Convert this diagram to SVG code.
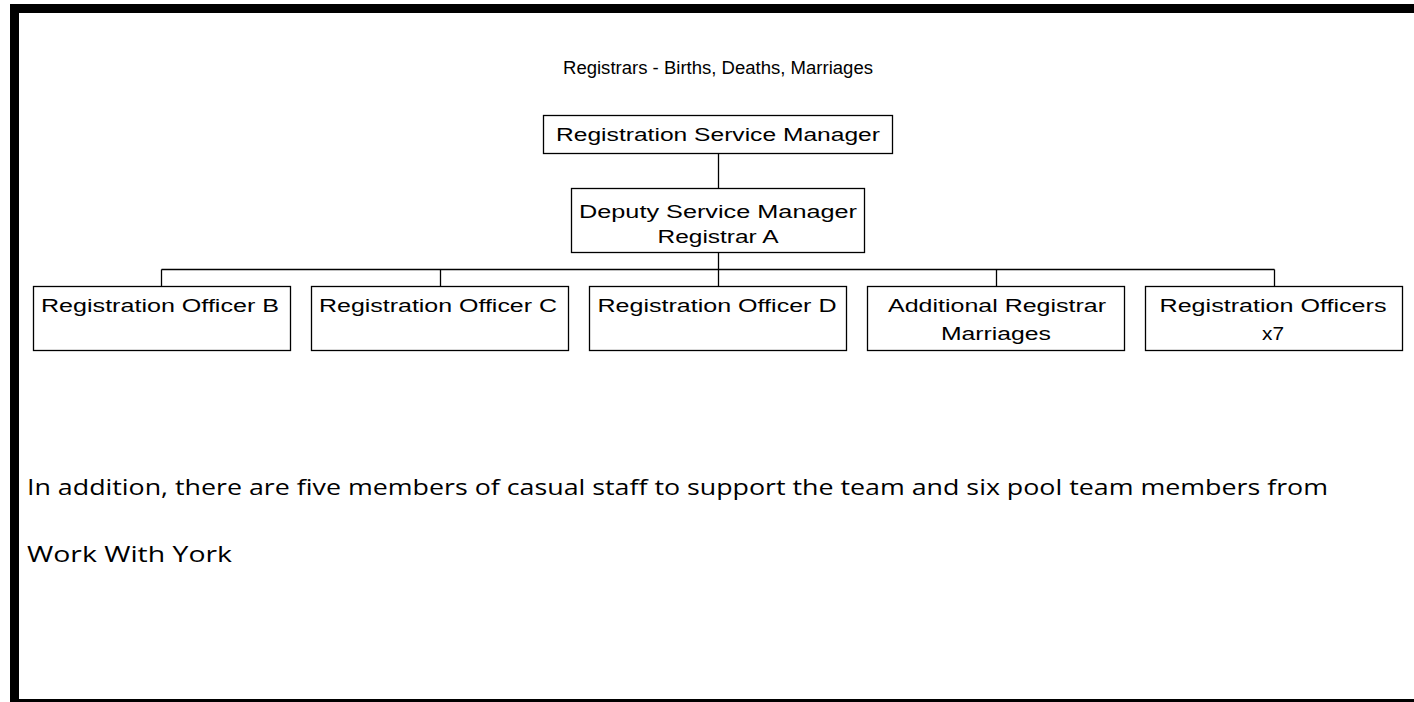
<svg xmlns="http://www.w3.org/2000/svg" width="1414" height="702" viewBox="0 0 1414 702">
<style>
.box{fill:#fff;stroke:#000;stroke-width:1.3}
.ln{stroke:#000;stroke-width:1.3;fill:none}
.t{font-family:"Liberation Sans",Arial,sans-serif;font-size:17.5px;fill:#000;text-anchor:middle}
.p{font-family:"Open Sans","Noto Sans",sans-serif;font-size:22px;fill:#000}
</style>
<rect width="1414" height="702" fill="#fff"/>
<g id="frame">
<rect x="10" y="4" width="1404" height="9" fill="#000"/>
<rect x="10" y="4" width="9" height="698" fill="#000"/>
<rect x="10" y="699" width="1404" height="3" fill="#000"/>
</g>
<text class="t" x="718" y="74" font-size="15" textLength="310" lengthAdjust="spacingAndGlyphs">Registrars - Births, Deaths, Marriages</text>
<g id="connectors">
<line class="ln" x1="718.5" y1="153" x2="718.5" y2="188"/>
<line class="ln" x1="718.5" y1="252" x2="718.5" y2="286"/>
<line class="ln" x1="161.5" y1="269.5" x2="1274.5" y2="269.5"/>
<line class="ln" x1="161.5" y1="269.5" x2="161.5" y2="286"/>
<line class="ln" x1="440.5" y1="269.5" x2="440.5" y2="286"/>
<line class="ln" x1="996.5" y1="269.5" x2="996.5" y2="286"/>
<line class="ln" x1="1274.5" y1="269.5" x2="1274.5" y2="286"/>
</g>
<g id="manager">
<rect class="box" x="543.5" y="115.5" width="349" height="38"/>
<text class="t" x="718" y="141" textLength="324" lengthAdjust="spacingAndGlyphs">Registration Service Manager</text>
</g>
<g id="deputy">
<rect class="box" x="571.5" y="188.5" width="293" height="64"/>
<text class="t" x="718" y="218" textLength="278" lengthAdjust="spacingAndGlyphs">Deputy Service Manager</text>
<text class="t" x="718" y="243" textLength="121" lengthAdjust="spacingAndGlyphs">Registrar A</text>
</g>
<g id="officerB">
<rect class="box" x="33.5" y="286.5" width="257" height="64"/>
<text class="t" x="160" y="312" textLength="238" lengthAdjust="spacingAndGlyphs">Registration Officer B</text>
</g>
<g id="officerC">
<rect class="box" x="311.5" y="286.5" width="257" height="64"/>
<text class="t" x="438" y="312" textLength="238" lengthAdjust="spacingAndGlyphs">Registration Officer C</text>
</g>
<g id="officerD">
<rect class="box" x="589.5" y="286.5" width="257" height="64"/>
<text class="t" x="717" y="312" textLength="239" lengthAdjust="spacingAndGlyphs">Registration Officer D</text>
</g>
<g id="additional">
<rect class="box" x="867.5" y="286.5" width="257" height="64"/>
<text class="t" x="997" y="312" textLength="218" lengthAdjust="spacingAndGlyphs">Additional Registrar</text>
<text class="t" x="996" y="340" textLength="110" lengthAdjust="spacingAndGlyphs">Marriages</text>
</g>
<g id="officers7">
<rect class="box" x="1145.5" y="286.5" width="257" height="64"/>
<text class="t" x="1273" y="312" textLength="227" lengthAdjust="spacingAndGlyphs">Registration Officers</text>
<text class="t" x="1273" y="340" textLength="22" lengthAdjust="spacingAndGlyphs">x7</text>
</g>
<text class="p" x="27" y="495" textLength="1301" lengthAdjust="spacingAndGlyphs">In addition, there are five members of casual staff to support the team and six pool team members from</text>
<text class="p" x="27" y="562" textLength="205" lengthAdjust="spacingAndGlyphs">Work With York</text>
</svg>
